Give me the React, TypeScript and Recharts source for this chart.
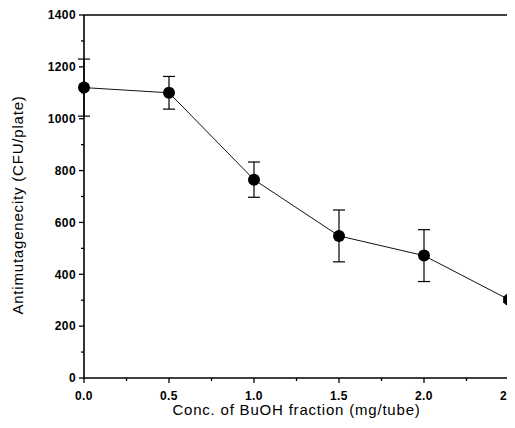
import React from 'react';
import { LineChart, Line, XAxis, YAxis, ErrorBar, ReferenceLine } from 'recharts';

const concentrations = [0, 0.5, 1.0, 1.5, 2.0, 2.5];
const antimutagenicity = [1120, 1100, 765, 548, 472, 302];
const errors = [110, 63, 68, 100, 100, 10];

const xTicks = [0, 0.25, 0.5, 0.75, 1, 1.25, 1.5, 1.75, 2, 2.25, 2.5];
const xMajorTicks = [0, 0.5, 1, 1.5, 2, 2.5];
const yTicks = [0, 100, 200, 300, 400, 500, 600, 700, 800, 900, 1000, 1100, 1200, 1300, 1400];
const yMajorTicks = [0, 200, 400, 600, 800, 1000, 1200, 1400];

const xTitle = 'Conc. of BuOH fraction (mg/tube)';
const yTitle = 'Antimutagenecity (CFU/plate)';

const data = concentrations.map((c, i) => ({ x: c, y: antimutagenicity[i], err: errors[i] }));

const FONT = '"Liberation Sans", Arial, Helvetica, sans-serif';
const TICK_SIZE = 5;
const X_MARGIN = 6;
const Y_MARGIN = 3;

const XTick = (props: any) => {
  const { x, y, payload } = props;
  const v = payload.value;
  const major = xMajorTicks.some((m) => Math.abs(m - v) < 1e-6);
  const axisY = y - X_MARGIN - TICK_SIZE;
  return (
    <g>
      <line x1={x} x2={x} y1={axisY} y2={axisY + (major ? 5 : 3)} stroke="#000" strokeWidth={1.3} />
      {major && (
        <text x={x} y={y + 10.5} textAnchor="middle" fontSize={12} fontWeight="bold" letterSpacing={0.4} fontFamily={FONT} fill="#000">
          {v.toFixed(1)}
        </text>
      )}
    </g>
  );
};

const YTick = (props: any) => {
  const { x, y, payload } = props;
  const v = payload.value;
  const major = yMajorTicks.includes(v);
  const axisX = x + Y_MARGIN + TICK_SIZE;
  return (
    <g>
      <line x1={axisX} x2={axisX - (major ? 5 : 3)} y1={y} y2={y} stroke="#000" strokeWidth={1.3} />
      {major && (
        <text x={x} y={y + 4.3} textAnchor="end" fontSize={12} fontWeight="bold" letterSpacing={0.4} fontFamily={FONT} fill="#000">
          {v}
        </text>
      )}
    </g>
  );
};

const XTitle = (props: any) => {
  const vb = props.viewBox;
  return (
    <text x={vb.x + vb.width / 2} y={vb.y + 37} textAnchor="middle" fontSize={15} letterSpacing={0.8} fontFamily={FONT} fill="#000">
      {xTitle}
    </text>
  );
};

const YTitle = (props: any) => {
  const vb = props.viewBox;
  const cx = vb.x + 15;
  const cy = vb.y + vb.height / 2 + 8.5;
  return (
    <text x={cx} y={cy} transform={`rotate(-90, ${cx}, ${cy})`} textAnchor="middle" fontSize={15} letterSpacing={0.8} fontFamily={FONT} fill="#000">
      {yTitle}
    </text>
  );
};

export default function App() {
  return (
    <LineChart width={507} height={410} data={data} margin={{ top: 7, right: 6, bottom: 0, left: 0 }}>
      <XAxis
        dataKey="x"
        type="number"
        domain={[0, 2.5]}
        ticks={xTicks}
        interval={0}
        tick={<XTick />}
        tickLine={false}
        tickSize={TICK_SIZE}
        tickMargin={X_MARGIN}
        height={40}
        axisLine={{ stroke: '#000', strokeWidth: 1.6 }}
        label={<XTitle />}
      />
      <YAxis
        type="number"
        domain={[0, 1400]}
        ticks={yTicks}
        interval={0}
        tick={<YTick />}
        tickLine={false}
        tickSize={TICK_SIZE}
        tickMargin={Y_MARGIN}
        width={76}
        axisLine={{ stroke: '#000', strokeWidth: 1.6 }}
        label={<YTitle />}
      />
      <ReferenceLine y={1400} stroke="#000" strokeWidth={1.6} ifOverflow="visible" />
      <ReferenceLine x={2.5} stroke="#000" strokeWidth={1.6} ifOverflow="visible" />
      <Line
        type="linear"
        dataKey="y"
        stroke="#111"
        strokeWidth={1}
        dot={{ r: 6, fill: '#000', stroke: '#000', strokeWidth: 0 }}
        isAnimationActive={false}
      >
        <ErrorBar dataKey="err" width={6} stroke="#000" strokeWidth={1.2} direction="y" />
      </Line>
    </LineChart>
  );
}
